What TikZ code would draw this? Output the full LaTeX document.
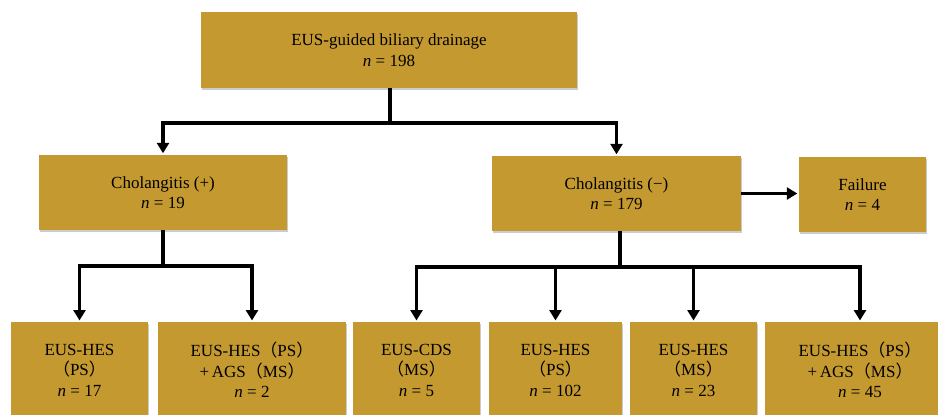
\documentclass[tikz,border=0pt]{standalone}
\usepackage{fontspec}
\setmainfont{Liberation Serif}
\newfontfamily\cjk{Noto Sans CJK SC}
\usetikzlibrary{arrows.meta,shadows}
\definecolor{gold}{RGB}{196,153,48}
\newcommand\fwp[1]{{\cjk （}#1{\cjk ）}}
\begin{document}
\begin{tikzpicture}[x=1pt,y=-1pt,
  box/.style={fill=gold, draw=none, inner sep=0pt, align=center,
    font=\fontsize{17}{20.5}\selectfont, text=black,
    drop shadow={shadow xshift=1.2pt,shadow yshift=-1.5pt,fill=black!40,opacity=0.5}},
  lbl/.style={align=center, font=\fontsize{17}{20.5}\selectfont, text=black, inner sep=0pt},
  link/.style={line width=3.8pt, black},
  arr/.style={link, -{Triangle[width=12pt,length=10.5pt]}, shorten >=1.5pt}]
\useasboundingbox (0,0) rectangle (938,415);
\clip (0,0) rectangle (938,415);
% upper boxes
\node[box, minimum width=376pt, minimum height=76pt] (top) at (389,50) {EUS-guided biliary drainage\\\textit{n} = 198};
\node[box, minimum width=248pt, minimum height=75pt] (cp) at (163,192.5) {Cholangitis (+)\\\textit{n} = 19};
\node[box, minimum width=249pt, minimum height=75pt] (cm) at (616.5,193.5) {Cholangitis (−)\\\textit{n} = 179};
\node[box, minimum width=127pt, minimum height=75pt] (fail) at (862.5,194.5) {Failure\\\textit{n} = 4};
% bottom boxes
\node[box, anchor=north, minimum width=137pt, minimum height=128pt] (b1) at (79.5,322) {};
\node[box, anchor=north, minimum width=188pt, minimum height=128pt] (b2) at (252,322) {};
\node[box, anchor=north, minimum width=127pt, minimum height=128pt] (b3) at (416.5,322) {};
\node[box, anchor=north, minimum width=133pt, minimum height=128pt] (b4) at (555.5,322) {};
\node[box, anchor=north, minimum width=127pt, minimum height=128pt] (b5) at (693.5,322) {};
\node[box, anchor=north, minimum width=190pt, minimum height=128pt] (b6) at (860,322) {};
\node[lbl] (t1) at (79.5,370) {EUS-HES\\\fwp{PS}\\\textit{n} = 17};
\node[lbl] (t2) at (252,370) {EUS-HES\fwp{PS}\\+\,AGS\fwp{MS}\\\textit{n} = 2};
\node[lbl] (t3) at (416.5,370) {EUS-CDS\\\fwp{MS}\\\textit{n} = 5};
\node[lbl] (t4) at (555.5,370) {EUS-HES\\\fwp{PS}\\\textit{n} = 102};
\node[lbl] (t5) at (693.5,370) {EUS-HES\\\fwp{MS}\\\textit{n} = 23};
\node[lbl] (t6) at (860,370) {EUS-HES\fwp{PS}\\+\,AGS\fwp{MS}\\\textit{n} = 45};
% connectors
\coordinate (j1) at (390,123);
\coordinate (j2) at (163,266);
\coordinate (j3) at (620,267);
\draw[link] (top.south -| j1) -- (j1);
\draw[arr] (j1) -| (cp.north);
\draw[arr] (j1) -| (cm.north);
\draw[arr] (cm.east) -- (fail.west |- cm.east);
\draw[link] (cp.south) -- (j2);
\draw[arr] (j2) -| (b1.north);
\draw[arr] (j2) -| (b2.north);
\draw[link] (cm.south -| j3) -- (j3);
\draw[arr] (j3) -| (b3.north);
\draw[arr] (j3) -| (b4.north);
\draw[arr] (j3) -| (b5.north);
\draw[arr] (j3) -| (b6.north);
\end{tikzpicture}
\end{document}
